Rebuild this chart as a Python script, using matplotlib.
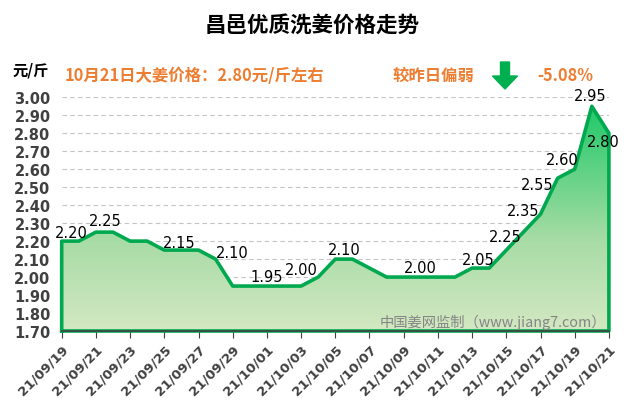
import numpy as np
import pandas as pd
import matplotlib
matplotlib.use("Agg")
import matplotlib.pyplot as plt
from matplotlib.colors import LinearSegmentedColormap
from matplotlib.patches import FancyArrow

plt.rcParams["font.family"] = ["Noto Sans CJK SC", "DejaVu Sans"]

# 每日价格 (元/斤)
DATES = pd.date_range("2021-09-19", "2021-10-21").strftime("%y/%m/%d").tolist()
PRICES = [2.20, 2.20, 2.25, 2.25, 2.20, 2.20, 2.15, 2.15, 2.15, 2.10, 1.95,
          1.95, 1.95, 1.95, 1.95, 2.00, 2.10, 2.10, 2.05, 2.00, 2.00, 2.00,
          2.00, 2.00, 2.05, 2.05, 2.15, 2.25, 2.35, 2.55, 2.60, 2.95, 2.80]
Y_TICKS = [1.70, 1.80, 1.90, 2.00, 2.10, 2.20, 2.30, 2.40, 2.50, 2.60,
           2.70, 2.80, 2.90, 3.00]
LABEL_IDX = [0, 2, 7, 9, 12, 15, 16, 21, 24, 27, 28, 29, 30, 31, 32]

TITLE = "昌邑优质洗姜价格走势"
UNIT = "元/斤"
NOTE_LEFT = "10月21日大姜价格：2.80元/斤左右"
NOTE_MID = "较昨日偏弱"
NOTE_RIGHT = "-5.08%"
WATERMARK = "中国姜网监制（www.jiang7.com）"

# label offsets in pixels (dx, dy)
LABEL_OFFSETS = [(10, 9), (9, 12), (-2, 8), (17, 7), (0, 10), (-17, 8),
                 (9, 10), (0, 10), (6, 9), (-18, -4), (-17, 4), (-20, -6),
                 (-12, 10), (-2, 11), (-6, -8)]

GREEN = "#00a94f"
ORANGE = "#ed7d31"
DARK = "#404040"

W, H = 640, 410
fig = plt.figure(figsize=(W / 100, H / 100), dpi=100)
left, right, top, bottom = 61.7, 608.9, 98.3, 332.0
ax = fig.add_axes([left / W, 1 - bottom / H, (right - left) / W, (bottom - top) / H])

x = np.arange(len(PRICES))
ymin, ymax = Y_TICKS[0], Y_TICKS[-1]

# gradient fill under the curve
poly = ax.fill_between(x, ymin, PRICES, color="none", zorder=2)
cmap = LinearSegmentedColormap.from_list(
    "g", [(0.0, "#d3e8c2"), (0.4, "#a8dca6"), (1.0, "#1fc968")])
grad = np.linspace(0, 1, 256).reshape(-1, 1)
img = ax.imshow(grad, extent=[x[0], x[-1], ymin, max(PRICES)], origin="lower",
                aspect="auto", cmap=cmap, zorder=2)
img.set_clip_path(poly.get_paths()[0], transform=ax.transData)

# outline
ox = np.concatenate([[x[0]], x, [x[-1], x[0]]])
oy = np.concatenate([[ymin], PRICES, [ymin, ymin]])
ax.plot(ox, oy, color=GREEN, lw=2.6, solid_joinstyle="round", zorder=3,
        clip_on=False)

for i, (dx, dy) in zip(LABEL_IDX, LABEL_OFFSETS):
    ax.annotate(f"{PRICES[i]:.2f}", xy=(x[i], PRICES[i]), xytext=(dx, dy),
                textcoords="offset pixels", ha="center", va="center",
                fontsize=10.5, color="black", family="DejaVu Sans", zorder=4)

ax.set_xlim(x[0], x[-1])
ax.set_ylim(ymin, ymax)
ax.set_yticks(Y_TICKS)
ax.set_yticklabels([f"{v:.2f}" for v in Y_TICKS], fontsize=10.5,
                   fontweight="bold", color=DARK, family="DejaVu Sans")
ax.set_xticks(x[::2])
ax.set_xticklabels(DATES[::2], rotation=45, ha="right", rotation_mode="anchor",
                   fontsize=9.5, fontweight="bold", color=DARK,
                   family="DejaVu Sans")
ax.set_xticks(x[1::2], minor=True)
ax.tick_params(axis="y", length=0, pad=8)
ax.tick_params(axis="x", which="major", length=5, color=DARK, pad=3)
ax.tick_params(axis="x", which="minor", length=3, direction="in", color=DARK)

for s in ["top", "right", "left"]:
    ax.spines[s].set_visible(False)
ax.spines["bottom"].set_color(DARK)
ax.spines["bottom"].set_linewidth(1.2)
ax.spines["bottom"].set_zorder(5)

ax.yaxis.grid(True, linestyle=(0, (4, 3)), color="#c4c4c4", lw=0.8, zorder=1)
ax.set_axisbelow(True)

ax.text(0.995, 0.043, WATERMARK, transform=ax.transAxes, ha="right",
        va="center", fontsize=10.3, color="#858585", zorder=4)

fig.text(312 / W, 1 - 25 / H, TITLE, ha="center", va="center", fontsize=15.5,
         fontweight="bold", color="black")
fig.text(13 / W, 1 - 70 / H, UNIT, ha="left", va="center", fontsize=11,
         fontweight="bold", color="black")
fig.text(65 / W, 1 - 76 / H, NOTE_LEFT, ha="left", va="center", fontsize=11.8,
         fontweight="bold", color=ORANGE)
fig.text(393 / W, 1 - 76 / H, NOTE_MID, ha="left", va="center", fontsize=11.8,
         fontweight="bold", color=ORANGE)
fig.text(537 / W, 1 - 76 / H, NOTE_RIGHT, ha="left", va="center", fontsize=11.8,
         fontweight="bold", color=ORANGE)

arrow = FancyArrow(5.05, (H - 63) / 100, 0, -0.27, width=0.09, head_width=0.25,
                   head_length=0.13, length_includes_head=True,
                   color="#00b050", transform=fig.dpi_scale_trans)
fig.add_artist(arrow)

fig.savefig("out.png", dpi=100)
